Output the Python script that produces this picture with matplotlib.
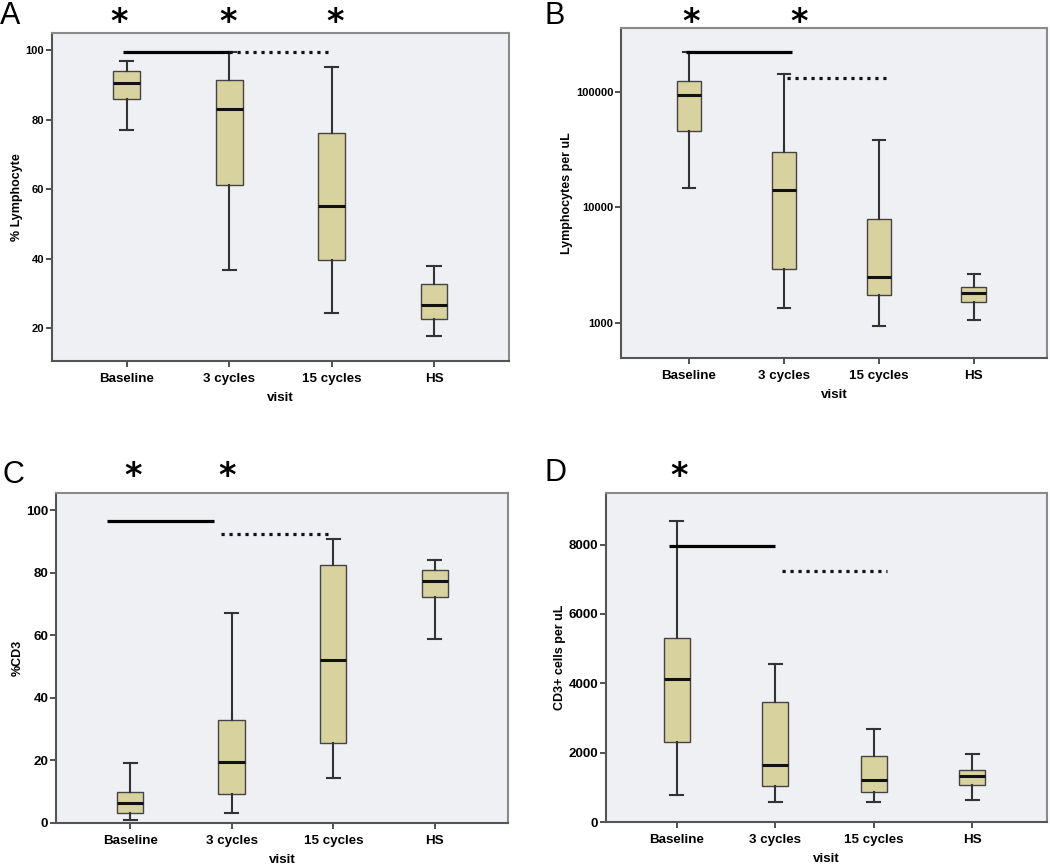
import numpy as np
import matplotlib.pyplot as plt
from matplotlib import transforms

plt.rcParams['font.family'] = ['Liberation Sans', 'DejaVu Sans']

visits = ['Baseline', '3 cycles', '15 cycles', 'HS']

# five-number summaries: low whisker, Q1, median, Q3, high whisker
pct_lymph = [[77.0, 86.0, 90.7, 94.0, 97.0],
             [36.8, 61.2, 83.0, 91.6, 99.4],
             [24.4, 39.6, 55.1, 76.1, 95.1],
             [17.8, 22.5, 26.6, 32.8, 37.9]]
lymph_ul = [[14600, 45600, 94200, 124000, 222000],
            [1350, 2900, 14100, 30100, 143000],
            [942, 1730, 2490, 7900, 37900],
            [1060, 1520, 1810, 2020, 2640]]
pct_cd3 = [[0.85, 3.3, 6.4, 9.9, 19.2],
           [3.3, 9.3, 19.5, 32.8, 67.2],
           [14.4, 25.6, 52.0, 82.6, 90.9],
           [58.8, 72.1, 77.3, 80.8, 84.0]]
cd3_ul = [[769, 2298, 4125, 5308, 8673],
          [567, 1029, 1654, 3452, 4567],
          [587, 865, 1221, 1913, 2692],
          [625, 1058, 1337, 1510, 1962]]

# significance bars: (y, x_start, x_end)
sig_solid = {'A': (99.4, -0.04, 1.0), 'B': (222000, -0.03, 1.09),
             'C': (96.7, -0.23, 0.83), 'D': (7952, -0.08, 1.0)}
sig_dotted = {'A': (99.4, 1.0, 2.0), 'B': (130000, 1.03, 2.08),
              'C': (92.5, 0.89, 1.95), 'D': (7231, 1.07, 2.14)}
stars = {'A': [-0.08, 0.99, 2.03], 'B': [0.02, 1.16], 'C': [0.03, 0.95], 'D': [0.02]}

panels = [
    ('A', pct_lymph, '% Lymphocyte', [0.0495, 0.5822, 0.4352, 0.3796], (10.5, 105), False,
     [20, 40, 60, 80, 100], (-0.73, 3.73)),
    ('B', lymph_ul, 'Lymphocytes per uL', [0.5914, 0.5856, 0.4057, 0.3819], (495, 355000), True,
     [1000, 10000, 100000], (-0.716, 3.77)),
    ('C', pct_cd3, '%CD3', [0.0533, 0.0475, 0.4305, 0.3819], (0, 105.5), False,
     [0, 20, 40, 60, 80, 100], (-0.73, 3.72)),
    ('D', cd3_ul, 'CD3+ cells per uL', [0.5771, 0.0486, 0.4200, 0.3808], (0, 9490), False,
     [0, 2000, 4000, 6000, 8000], (-0.72, 3.76)),
]

fig = plt.figure(figsize=(10.5, 8.64), dpi=100, facecolor='white')

box_fill = '#d8d29e'
bg = '#eef0f3'

for letter, data, ylab, rect, ylim, logy, yticks, xlim in panels:
    ax = fig.add_axes(rect, facecolor=bg)
    stats = []
    for v, d in zip(visits, data):
        stats.append({'whislo': d[0], 'q1': d[1], 'med': d[2], 'q3': d[3],
                      'whishi': d[4], 'label': v, 'fliers': []})
    ax.bxp(stats, positions=range(4), widths=0.26, patch_artist=True,
           showfliers=False,
           boxprops=dict(facecolor=box_fill, edgecolor='#444444', lw=1.0),
           medianprops=dict(color='#111111', lw=2.2),
           whiskerprops=dict(color='#333333', lw=1.5),
           capprops=dict(color='#333333', lw=1.5),
           capwidths=0.13)
    if logy:
        ax.set_yscale('log')
        ax.yaxis.set_minor_locator(plt.NullLocator())
    ax.set_ylim(*ylim)
    ax.set_yticks(yticks)
    ax.set_yticklabels([str(t) for t in yticks])
    ax.set_xlim(*xlim)
    ax.set_xticks(range(4))
    ax.set_xticklabels(visits, fontsize=9.6, fontweight='bold')
    for t in ax.get_yticklabels():
        t.set_fontsize(8 if letter in 'AB' else 9.6)
        t.set_fontweight('bold')
    ax.tick_params(axis='y', length=4.5, width=1.2, color='#333333', pad=1)
    ax.tick_params(axis='x', length=4.5, width=1.2, color='#333333', pad=4)
    ax.set_ylabel(ylab, fontsize=9, fontweight='bold', labelpad=2)
    ax.set_xlabel('visit', fontsize=9.6, fontweight='bold', labelpad=5)
    for s in ax.spines.values():
        s.set_color('#8a8a8a')
        s.set_linewidth(1.5)
    ax.spines['left'].set_color('#555555')
    ax.spines['bottom'].set_color('#555555')

    y, x0, x1 = sig_solid[letter]
    ax.plot([x0, x1], [y, y], color='black', lw=2.3, solid_capstyle='butt')
    y, x0, x1 = sig_dotted[letter]
    ax.plot([x0, x1], [y, y], color='#111111', lw=2.3, ls=(0, (1, 1.5)))

    # asterisks above the axes, x in data units, y in figure units
    trans = transforms.blended_transform_factory(ax.transData, fig.transFigure)
    ys = 0.9633 if letter in 'AB' else 0.4378
    for sx in stars[letter]:
        ax.text(sx, ys, '*', transform=trans, ha='center', va='baseline',
                fontsize=24, fontweight='bold', clip_on=False,
                fontfamily='DejaVu Sans')

fig.text(0.0, 0.981, 'A', fontsize=22, va='center', ha='left')
fig.text(0.519, 0.982, 'B', fontsize=22, va='center', ha='left')
fig.text(0.002, 0.450, 'C', fontsize=22, va='center', ha='left')
fig.text(0.519, 0.452, 'D', fontsize=22, va='center', ha='left')

fig.savefig('out.png', dpi=100, facecolor='white')
